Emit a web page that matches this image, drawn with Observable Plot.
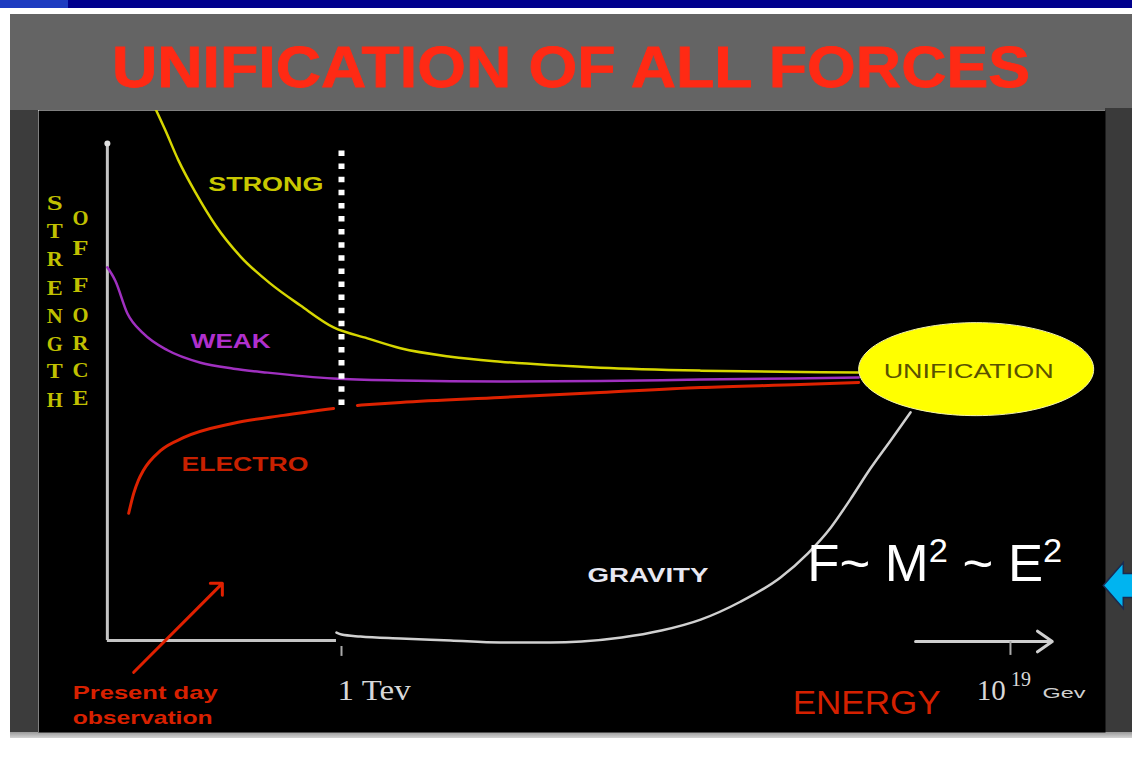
<!DOCTYPE html>
<html><head><meta charset="utf-8">
<script src="https://cdn.jsdelivr.net/npm/d3@7"></script>
<script src="https://cdn.jsdelivr.net/npm/@observablehq/plot@0.6"></script>
<style>
body{margin:0;background:#fff;width:1132px;height:761px;overflow:hidden;position:relative;font-family:"Liberation Sans",Arial,sans-serif}
#topbar{position:absolute;left:0;top:0;width:1132px;height:8px;background:linear-gradient(to right,#1e3cc0 0,#1e3cc0 68px,#00008c 68px,#00008c 100%)}
#band{position:absolute;left:10px;top:14px;width:1122px;height:96px;background:#646464}
#lstrip{position:absolute;left:10px;top:110px;width:28px;height:622px;background:#3c3c3c}
#rstrip{position:absolute;left:1105px;top:108px;width:27px;height:624px;background:#3a3a3a}
#bottom{position:absolute;left:10px;top:732px;width:1122px;height:6px;background:linear-gradient(#9a9a9a,#d4d4d4)}
#title{position:absolute;left:0;top:14px}
#chart{position:absolute;left:38px;top:110px}
</style></head>
<body>
<div id="topbar"></div><div id="band"></div><div id="lstrip"></div><div id="rstrip"></div><div id="bottom"></div>
<svg id="title" width="1132" height="96"><text x="571" y="73" text-anchor="middle" font-family="Liberation Sans, Arial, sans-serif" font-weight="bold" font-size="57" fill="#ff2a14" stroke="#ff2a14" stroke-width="0.8" textLength="918" lengthAdjust="spacingAndGlyphs">UNIFICATION OF ALL FORCES</text></svg>
<div id="chart"></div>
<script>
// x: log10(energy / GeV), y: relative strength of force
const energy_strong   = [-1.45,-1.21,-0.90,-0.49,-0.01,0.58,1.30,2.02,2.81,3.62,4.41,5.61,6.80,9.19,11.59,13.98,15.37];
const strength_strong = [107.0,102.6,96.6,90.1,83.5,77.3,71.8,67.4,63.0,60.8,58.8,57.1,56.1,54.9,54.3,54.0,53.9];

const energy_weak   = [-2.60,-2.41,-2.12,-1.74,-1.16,-0.37,0.42,1.23,2.81,4.41,6.80,9.19,11.59,15.37];
const strength_weak = [75.1,72.4,65.8,61.8,58.4,55.9,54.7,53.9,52.7,52.3,52.1,52.2,52.5,52.9];

const energy_electro   = [-2.09,-1.97,-1.86,-1.74,-1.33,-0.78,0.42,1.61,2.81, 3.38,4.41,6.80,9.19,11.59,13.98,15.37];
const strength_electro = [25.6,29.6,32.2,34.2,38.2,40.8,43.7,45.3,46.7, 47.3,47.9,48.9,49.9,50.9,51.5,51.9];
const segment_electro  = ["a","a","a","a","a","a","a","a","a","b","b","b","b","b","b","b"];

const energy_gravity   = [2.88,3.00,3.45,4.41,5.61,6.80,8.00,8.74,9.70,10.65,11.59,12.54,13.50,14.15,14.70,15.17,15.65,16.13,16.61];
const strength_gravity = [1.6,1.2,0.8,0.4,0.0,-0.4,-0.4,-0.2,0.6,2.0,4.2,7.8,12.7,17.5,22.7,28.4,34.6,40.2,45.9];

// axes (in data units)
const axisOrigin = -2.60, axisTop = 100, axisBreak = 2.88;
const tevEnergy = 3, planckEnergy = 19, arrowStart = 16.73, arrowEnd = 20.0;
const threshold = {x: 3, y1: 47.3, y2: 100};

// unification point
const unification = [{x: 18.18, y: 54.6}];

// labels
const curveLabels = [
  {x: 1.19, y: 91.8, text: "STRONG", color: "#c8c800"},
  {x: 0.35, y: 60.2, text: "WEAK", color: "#b030cc"},
  {x: 0.69, y: 35.4, text: "ELECTRO", color: "#c82000"},
  {x: 10.33, y: 13.1, text: "GRAVITY", color: "#e8e8f2"}
];
const strengthLetters = ["S","T","R","E","N","G","T","H"];
const strengthY = [87.9,82.3,76.7,70.8,65.2,59.6,54.1,48.3];
const forceLetters = ["O","F","F","O","R","C","E"];
const forceY = [84.9,78.9,71.4,65.4,59.8,54.3,48.7];
const presentLines = ["Present day","observation"];
const presentY = [-10.5,-15.5];
const presentArrow = {x1: -1.97, y1: -6.4, x2: 0.15, y2: 11.5};
const formulaPos = {x: 17.19, y: 15.3};
const bluePointer = {x: 21.22, y: 11.07};

const widths = {"STRONG":115,"WEAK":80,"ELECTRO":127,"GRAVITY":121,"UNIFICATION":170,
  "F~ M² ~ E²":255,"1 Tev":73,"ENERGY":148,"Present day":145,"observation":140,"Gev":43};
const letterWidth = 16;

const rows = (xs, ys, extra) => xs.map((x, i) => ({x, y: ys[i], z: extra ? extra[i] : "s"}));

const ellipseSymbol = {draw(ctx, size) {
  const ry = Math.sqrt(size / Math.PI), rx = ry * 2.527, k = 0.5523;
  ctx.moveTo(rx, 0);
  ctx.bezierCurveTo(rx, ry * k, rx * k, ry, 0, ry);
  ctx.bezierCurveTo(-rx * k, ry, -rx, ry * k, -rx, 0);
  ctx.bezierCurveTo(-rx, -ry * k, -rx * k, -ry, 0, -ry);
  ctx.bezierCurveTo(rx * k, -ry, rx, -ry * k, rx, 0);
  ctx.closePath();
}};
const arrowSymbol = {draw(ctx) {
  ctx.moveTo(0, 0); ctx.lineTo(20, -23); ctx.lineTo(20, -12); ctx.lineTo(45, -12);
  ctx.lineTo(45, 12); ctx.lineTo(20, 12); ctx.lineTo(20, 23); ctx.closePath();
}};

const sans = "Liberation Sans, Arial, sans-serif";
const serif = "Liberation Serif, Times New Roman, serif";

const chart = Plot.plot({
  width: 1094, height: 622,
  marginTop: 0, marginBottom: 0, marginLeft: 0, marginRight: 27,
  style: {background: "transparent", overflow: "visible"},
  x: {domain: [-4.247, 21.273], axis: null},
  y: {domain: [-18.51, 106.64], axis: null},
  marks: [
    Plot.frame({fill: "black", stroke: "none"}),
    // axes
    Plot.ruleX([axisOrigin], {y1: 0, y2: axisTop, stroke: "#c4c4c4", strokeWidth: 3}),
    Plot.dot([{x: axisOrigin, y: axisTop}], {x: "x", y: "y", r: 3, fill: "#e0e0e0"}),
    Plot.ruleY([0], {x1: axisOrigin, x2: axisBreak, stroke: "#c4c4c4", strokeWidth: 3}),
    Plot.ruleX([tevEnergy], {y1: -1.2, y2: -3.2, stroke: "#aaa", strokeWidth: 2}),
    Plot.arrow([{x1: arrowStart, x2: arrowEnd}], {x1: "x1", x2: "x2", y1: -0.2, y2: -0.2, stroke: "#cfcfcf", strokeWidth: 3, headLength: 9, headAngle: 70}),
    Plot.ruleX([planckEnergy], {y1: -0.2, y2: -3.0, stroke: "#aaa", strokeWidth: 2}),
    // curves
    Plot.line(rows(energy_strong, strength_strong), {x: "x", y: "y", stroke: "#d6d600", strokeWidth: 2.5, curve: "monotone-x", clip: true}),
    Plot.line(rows(energy_weak, strength_weak), {x: "x", y: "y", stroke: "#a030c0", strokeWidth: 2.5, curve: "monotone-x"}),
    Plot.line(rows(energy_electro, strength_electro, segment_electro), {x: "x", y: "y", z: "z", stroke: "#dd2200", strokeWidth: 3, curve: "monotone-x"}),
    Plot.line(rows(energy_gravity, strength_gravity), {x: "x", y: "y", stroke: "#d0d0d0", strokeWidth: 2.5, curve: "monotone-x"}),
    // 1 TeV threshold
    Plot.ruleX([threshold.x], {y1: threshold.y1, y2: threshold.y2, stroke: "white", strokeWidth: 6, strokeDasharray: "5.5 7.6"}),
    // unification blob
    Plot.dot(unification, {x: "x", y: "y", r: 46.5, symbol: ellipseSymbol, fill: "#ffff00", stroke: "#f4f4b0", strokeWidth: 1}),
    Plot.text(["UNIFICATION"], {x: 18.0, y: 54.1, text: d => d, fill: "#5a5200", fontSize: 20, fontFamily: sans}),
    // curve labels
    Plot.text(curveLabels, {x: "x", y: "y", text: "text", fill: "color", fontSize: 21, fontWeight: "bold", fontFamily: sans}),
    // vertical axis title
    Plot.text(strengthLetters, {x: -3.86, y: (d, i) => strengthY[i], text: d => d, fill: "#c0c000", fontSize: 20, fontWeight: "bold", fontFamily: serif}),
    Plot.text(forceLetters, {x: -3.24, y: (d, i) => forceY[i], text: d => d, fill: "#c0c000", fontSize: 20, fontWeight: "bold", fontFamily: serif}),
    // present-day pointer
    Plot.arrow([presentArrow], {x1: "x1", y1: "y1", x2: "x2", y2: "y2", stroke: "#e02000", strokeWidth: 3, headLength: 6, headAngle: 90}),
    Plot.text(presentLines, {x: -3.43, y: (d, i) => presentY[i], text: d => d, textAnchor: "start", fill: "#d82000", fontSize: 19, fontWeight: "bold", fontFamily: sans}),
    // x tick labels
    Plot.text(["1 Tev"], {x: 3.78, y: -10.1, text: d => d, fill: "#d8d8d8", fontSize: 30, fontFamily: serif}),
    Plot.text(["10"], {x: 18.54, y: -10.1, text: d => d, fill: "#d8d8d8", fontSize: 29, fontFamily: serif}),
    Plot.text(["19"], {x: 19.25, y: -7.8, text: d => d, fill: "#d8d8d8", fontSize: 20, fontFamily: serif}),
    Plot.text(["Gev"], {x: 20.28, y: -10.7, text: d => d, fill: "#d0d0d0", fontSize: 15, fontFamily: sans}),
    Plot.text(["ENERGY"], {x: 15.56, y: -12.5, text: d => d, fill: "#d42000", fontSize: 34, fontFamily: sans}),
    // formula
    Plot.text(["F~ M² ~ E²"], {x: formulaPos.x, y: formulaPos.y, text: d => d, fill: "white", fontSize: 52, fontFamily: sans}),
    // blue pointer
    Plot.dot([bluePointer], {x: "x", y: "y", symbol: arrowSymbol, r: 10, fill: "#00b4f0", stroke: "#1a2a50", strokeWidth: 1.5})
  ]
});
document.getElementById("chart").appendChild(chart);
d3.select(chart).selectAll("text").each(function() {
  const t = this.textContent;
  const w = widths[t] || (t.length === 1 ? letterWidth : null);
  if (w) { this.setAttribute("textLength", w); this.setAttribute("lengthAdjust", "spacingAndGlyphs"); }
  if (t === "F~ M² ~ E²") {
    const el = d3.select(this);
    el.text("");
    const parts = [["F~ M", 0, null], ["2", -19, 34], [" ~ E", 19, null], ["2", -19, 34]];
    parts.forEach(([s, dy, fs]) => {
      const ts = el.append("tspan").text(s);
      if (dy) ts.attr("dy", dy);
      if (fs) ts.attr("font-size", fs);
    });
  }
});
</script>
</body></html>
